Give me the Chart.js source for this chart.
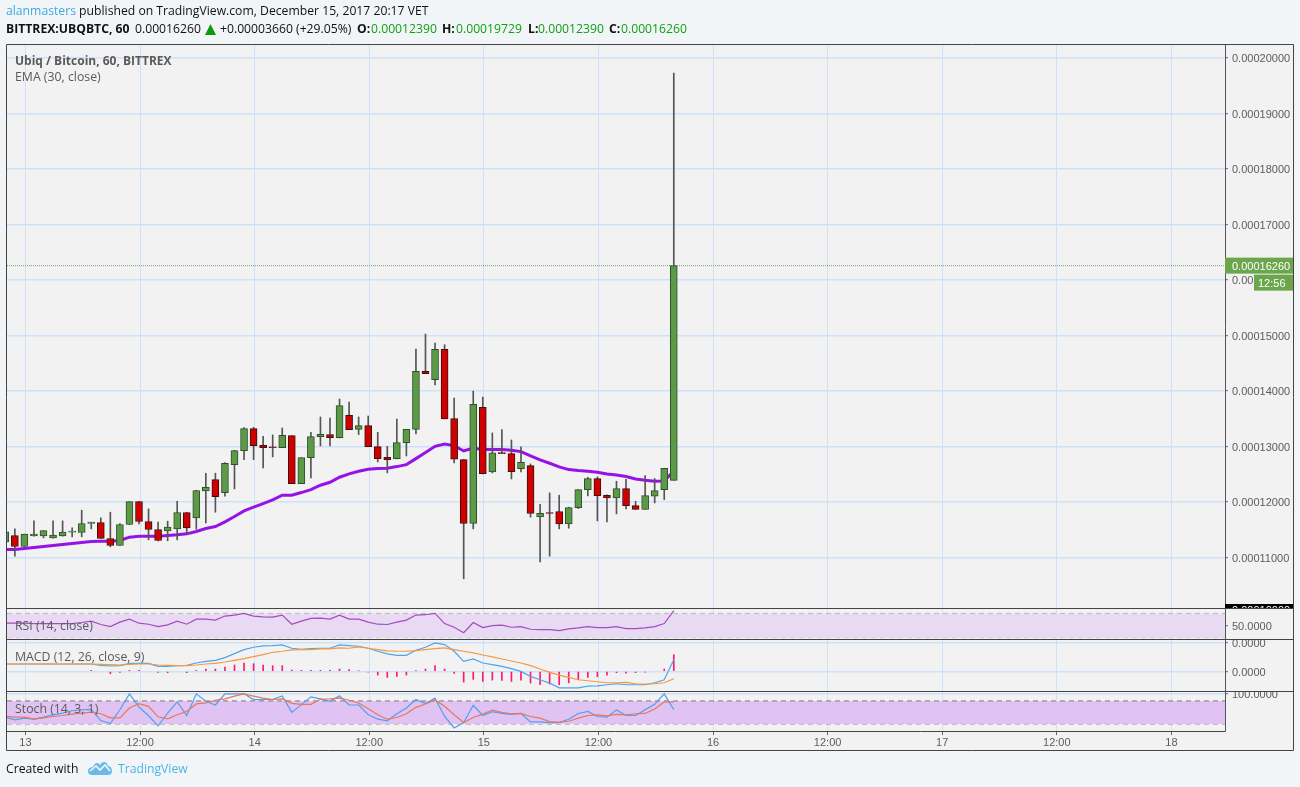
<!DOCTYPE html>
<html>
<head>
<meta charset="utf-8">
<script src="https://cdn.jsdelivr.net/npm/chart.js@4/dist/chart.umd.min.js"></script>
<style>
  html, body { margin: 0; padding: 0; background: #f1f5f8; }
  body { width: 1300px; height: 787px; position: relative; overflow: hidden; font-family: "Open Sans", sans-serif; }
  canvas { position: absolute; left: 0; top: 0; }
  .txt { position: absolute; white-space: nowrap; font-size: 12.2px; line-height: 16px; color: #111; }
  .lg { position: absolute; white-space: nowrap; font-size: 12.3px; line-height: 16px; color: #5a5a5a; }
  .g { color: #12a012; }
  b { font-weight: 700; }
</style>
</head>
<body>
<canvas id="c" width="1300" height="787"></canvas>

<div class="txt" style="left:6px;top:3px"><span style="color:#3fa9e0">alanmasters</span> published on TradingView.com, December 15, 2017 20:17 VET</div>
<div class="txt" style="left:6px;top:21px"><b>BITTREX:UBQBTC, 60</b></div>
<div class="txt" style="left:135px;top:21px">0.00016260</div>
<svg style="position:absolute;left:205px;top:24px" width="11" height="11" viewBox="0 0 11 11"><path d="M5.5 0 L11 11 L0 11 Z" fill="#0a9a0a"/></svg>
<div class="txt" style="left:220px;top:21px">+0.00003660 (+29.05%)</div>
<div class="txt" style="left:357px;top:21px"><b>O:</b></div>
<div class="txt g" style="left:371px;top:21px">0.00012390</div>
<div class="txt" style="left:442px;top:21px"><b>H:</b></div>
<div class="txt g" style="left:456px;top:21px">0.00019729</div>
<div class="txt" style="left:528px;top:21px"><b>L:</b></div>
<div class="txt g" style="left:538px;top:21px">0.00012390</div>
<div class="txt" style="left:609px;top:21px"><b>C:</b></div>
<div class="txt g" style="left:621px;top:21px">0.00016260</div>

<div class="lg" style="left:15px;top:53px;font-size:12px"><b>Ubiq / Bitcoin, 60, BITTREX</b></div>
<div class="lg" style="left:15px;top:69px">EMA (30, close)</div>
<div class="lg" style="left:15px;top:618px">RSI (14, close)</div>
<div class="lg" style="left:15px;top:649px">MACD (12, 26, close, 9)</div>
<div class="lg" style="left:15px;top:701px">Stoch (14, 3, 1)</div>

<div class="txt" style="left:6px;top:761px;color:#111">Created with</div>
<svg style="position:absolute;left:87px;top:760px" width="26" height="16" viewBox="0 0 26 16">
  <path d="M1 11 C1 8 4 7 6 7 C7 4 10 1 13 5 C15 1 20 1 21 6 C24 6 25 9 25 11 C25 14 23 15 21 15 L5 15 C3 15 1 14 1 11 Z" fill="#6cb9e6"/>
  <path d="M3 11 L9 6 L13 10 L18 5 L23 11" fill="none" stroke="#f1f5f8" stroke-width="1.6"/>
</svg>
<div class="txt" style="left:118px;top:761px;color:#4db4e6">TradingView</div>

<script>
// hours since Dec 13 00:00, one candle per hour. prices in satoshi (1e-8 BTC)
const hours = [-2,-1,0,1,2,3,4,5,6,7,8,9,10,11,12,13,14,15,16,17,18,19,20,21,22,23,24,25,26,27,28,29,30,31,32,33,
  34,35,36,37,38,39,40,41,42,43,44,45,46,47,48,49,50,51,52,53,54,55,56,57,58,59,60,61,62,63,64,65,66,67,68];

const opens = [11282,11396,11198,11390,11390,11354,11390,11456,11450,11612,11630,11342,11216,11594,12008,11648,11504,11480,
  11516,11810,11714,12200,12404,12170,12674,12926,13322,13022,12992,12980,13196,12332,12800,13178,13214,13160,
  13562,13310,13376,12998,12806,12782,13070,13310,14354,14204,14750,13502,12764,11612,13706,12542,12890,12872,
  12602,12656,11732,11810,11828,11606,11900,12224,12422,12122,12074,12242,11936,11864,12104,12224,12390];
const highs = [11504,11516,11420,11660,11486,11660,11660,11534,11852,11636,11714,11816,11612,12008,12008,11876,11636,11654,
  12014,11816,12212,12518,12518,12710,12932,13340,13346,13184,13208,13334,13196,12800,13256,13532,13514,13856,
  13802,13532,13550,13256,13004,13496,13310,14756,15026,14864,14834,13874,12770,14000,13892,13244,13304,13118,
  12992,12686,11960,12164,12122,11906,12224,12446,12452,12128,12374,12410,12014,12476,12422,12608,19729];
const lows = [11264,11024,11198,11384,11354,11348,11384,11372,11372,11516,11342,11192,11216,11594,11606,11318,11300,11300,
  11318,11420,11510,11624,11816,12104,12236,12764,12764,12614,12812,12980,12332,12332,12434,13010,13010,13154,
  13304,13214,12998,12722,12524,12776,12830,13226,14312,14108,13496,12704,10616,11516,12506,12524,12872,12416,
  12542,11726,10922,11024,11516,11528,11882,12110,11660,11642,11786,11876,11864,11864,11984,12044,12390];
const closes = [11462,11198,11420,11420,11486,11402,11456,11474,11612,11636,11342,11216,11594,12008,11648,11504,11306,11546,
  11810,11534,12206,12266,12098,12698,12926,13322,13016,12980,12980,13202,12332,12800,13178,13220,13160,13736,
  13304,13376,12998,12782,12764,13070,13310,14354,14312,14750,13496,12770,11612,13760,12512,12884,12872,12548,
  12716,11792,11798,11792,11606,11900,12224,12422,12116,12074,12242,11936,11864,12116,12206,12608,16260];
const ema30 = [11144,11144,11162,11180,11198,11216,11234,11252,11270,11288,11294,11294,11306,11366,11384,11384,11384,11396,
  11408,11426,11468,11522,11558,11642,11738,11840,11906,11972,12038,12122,12122,12170,12224,12302,12356,12446,
  12506,12554,12590,12602,12608,12638,12674,12782,12890,13004,13046,13016,12920,12974,12944,12944,12944,12932,
  12908,12830,12758,12698,12632,12584,12566,12554,12536,12506,12488,12458,12416,12392,12374,12380,12560];
const lastPrice = 16260;

const rsi = [53.9,53.9,53.9,53.3,53.3,53.3,53.3,53.3,55,57.2,51.7,48.3,55.6,60.6,53.9,52.2,48.3,51.1,
  57.2,52.2,60.6,60.6,58.9,65.6,67.2,70,65.6,64.4,63.9,67.2,52.2,57.2,61.7,62.2,60.6,67.2,
  60.6,60.6,55.6,52.2,51.7,55.6,58.9,67.2,67.8,70,53.3,47.2,38.3,55,46.7,50,50.6,47.2,
  48.3,43.9,43.3,43.3,41.7,44.4,46.1,48.3,46.7,46.7,48.3,45,45,46.1,48.3,53.3,74.4];

const macd = [259,259,259,259,259,259,259,259,259,259,212,188,200,282,282,282,176,176,
  200,212,294,353,388,482,623,764,847,894,906,929,811,776,800,811,811,929,
  906,882,811,706,612,564,564,741,847,1000,941,706,353,435,294,235,176,94,
  0,-176,-294,-412,-576,-576,-576,-517,-506,-470,-435,-470,-470,-470,-400,-294,412];
const macdSignal = [259,259,259,259,259,259,259,259,259,259,247,235,223,247,259,259,223,212,
  200,200,223,259,282,329,388,447,517,588,670,706,753,764,764,788,788,823,
  811,858,811,764,717,706,706,729,764,800,823,764,706,647,576,506,435,365,
  294,200,82,-35,-129,-212,-294,-329,-365,-400,-400,-388,-435,-447,-435,-400,-259];
const macdHist = [null,null,null,null,null,null,null,null,null,35,null,-82,-35,35,35,null,-35,-47,
  null,-47,35,82,82,153,223,294,270,223,200,200,47,35,35,35,35,82,
  59,24,-24,-129,-212,-176,-129,24,82,200,82,-71,-376,-282,-353,-306,-318,-353,
  -306,-412,-470,-447,-470,-400,-294,-212,-188,-129,-47,-59,-47,-24,null,82,588];

const stochK = [37.6,30.6,35,32.3,37.6,43.8,48.2,54.4,57,57.9,28.8,20.9,57,98.5,64.1,41.2,14.7,48.2,
  77.4,42,98.5,79.1,69.4,98.5,98.5,98.5,83.5,83.5,84.4,93.2,50,70.3,90.6,85.3,79.1,93.2,
  69.4,69.4,44.7,32.3,27.9,46.5,61.5,83.5,72.9,87.1,39.4,9.4,23.5,68.5,42,51.8,47.3,44.7,
  47.3,25.3,25.3,23.5,23.5,32.3,47.3,52.6,39.4,37.6,56.2,42,42,57,71.2,98.5,57];
const stochD = [39.4,37.6,37.6,32.3,35.9,39.4,42,45.6,48.2,50.9,46.5,35.9,35.9,61.5,72.9,65.9,38.5,33.2,
  43.8,52.6,72.1,74.7,81.8,85.3,92.4,98.5,92.4,87.1,83.5,85.3,73.8,71.2,71.2,84.4,85.3,87.1,
  81.8,74.7,59.7,43.8,32.3,36.8,46.5,63.2,72.1,82.6,65.9,43.8,23.5,36.8,45.6,56.2,50,46.5,
  47.3,39.4,35,26.2,24.4,27,35,42,43.8,41.2,44.7,43.8,46.5,47.3,58.8,77.4,77.4];

const priceTicks = [11000,12000,13000,14000,15000,16000,17000,18000,19000,20000];
const rsiTicks = [50];
const macdTicks = [0,1000];
const stochTicks = [100];
const timeTicks = [0,12,24,36,48,60,72,84,96,108,120];
const timeLabels = ['13','12:00','14','12:00','15','12:00','16','12:00','17','12:00','18'];

// the day grid sits about 1px right of the candles in the source
const gridShift = 0.11;
const xMin = -1.822, xMax = 125.72;
const gridColor = '#cde2f9';
const axisFont = { family: 'Liberation Sans', size: 11 };
const axisText = '#5c5c5c';

function series(vals) { return hours.map((h, i) => ({ x: h, y: vals[i] })); }
function flat(v) { return [{ x: xMin, y: v }, { x: xMax, y: v }]; }

const upBody = '#5c9a48', upEdge = '#2e4f2a', downBody = '#cf0000', downEdge = '#3e0f0f';

function lineDs(yAxisID, data, color, width, order, extra) {
  return Object.assign({ type: 'line', yAxisID, data, borderColor: color, borderWidth: width, pointRadius: 0, tension: 0, fill: false, order }, extra || {});
}
function bandDs(yAxisID, hi, lo, fillColor, dashColor) {
  return [
    lineDs(yAxisID, flat(hi), dashColor, 1, 9, { borderDash: [5, 4], fill: '+1', backgroundColor: fillColor }),
    lineDs(yAxisID, flat(lo), dashColor, 1, 9, { borderDash: [5, 4] })
  ];
}
function yScale(weight, min, max, values, fmt, labelOffset) {
  return {
    type: 'linear', position: 'right', stack: 'panes', stackWeight: weight, min, max,
    afterFit: s => { s.width = 68; },
    afterBuildTicks: s => { s.ticks = values.map(v => ({ value: v })); },
    grid: { color: gridColor, tickColor: '#666', tickLength: 3, lineWidth: 1.4, tickWidth: 1 },
    border: { display: true, color: '#555', width: 1 },
    ticks: { callback: fmt, font: axisFont, color: axisText, padding: 4, autoSkip: false, labelOffset }
  };
}

// pane frame, dividers and the price tags on the right
const frame = {
  id: 'frame',
  beforeDraw(chart) {
    const c = chart.ctx;
    c.fillStyle = '#f2f2f2';
    c.fillRect(6, 44, 1288, 706);
  },
  afterDraw(chart) {
    const c = chart.ctx, s = chart.scales;
    const lastY = s.price.getPixelForValue(lastPrice);
    c.save();
    // labels that run over a pane edge are cut off at the divider
    c.fillStyle = '#f2f2f2';
    c.fillRect(1229, 634, 64, 5);
    c.fillRect(1229, 686, 64, 5);
    c.strokeStyle = '#444';
    c.lineWidth = 1;
    c.beginPath();
    c.rect(6.5, 44.5, 1287, 706);
    for (const y of [608.5, 639.5, 691.5]) { c.moveTo(6, y); c.lineTo(1294, y); }
    c.moveTo(6, 731.5); c.lineTo(1225.5, 731.5);
    c.stroke();
    c.fillStyle = '#6ca64c';
    c.fillRect(1225, lastY - 8, 68, 16);
    c.fillRect(1254, lastY + 9, 39, 16);
    c.fillStyle = '#fff';
    c.font = '11px "Liberation Sans"';
    c.textBaseline = 'middle';
    c.fillText('0.00016260', 1232, lastY + 1);
    c.fillText('12:56', 1258, lastY + 18);
    // clipped tag above the RSI pane
    c.fillStyle = '#000';
    c.fillRect(1225, 604, 68, 4);
    c.beginPath();
    c.rect(1225, 604, 68, 4);
    c.clip();
    c.fillStyle = '#fff';
    c.fillText('0.00010000', 1232, 611);
    c.restore();
  }
};

new Chart(document.getElementById('c'), {
  data: {
    datasets: [
      { type: 'bar', yAxisID: 'price', grouped: false, order: 1, barThickness: 7, borderWidth: 1, borderSkipped: false,
        data: hours.map((h, i) => ({ x: h, y: [opens[i], closes[i]] })),
        backgroundColor: closes.map((v, i) => v >= opens[i] ? upBody : downBody),
        borderColor: closes.map((v, i) => v >= opens[i] ? upEdge : downEdge) },
      { type: 'bar', yAxisID: 'price', grouped: false, order: 2, barThickness: 1, borderWidth: 0,
        data: hours.map((h, i) => ({ x: h, y: [lows[i], highs[i]] })),
        backgroundColor: '#555555' },
      lineDs('price', series(ema30), '#9612e6', 3, 3),
      lineDs('price', flat(lastPrice), '#7d9c70', 1, 4, { borderDash: [1, 1] }),

      ...bandDs('rsi', 70, 30, '#e8daf3', '#bdb6c2'),
      lineDs('rsi', series(rsi), '#a54bbd', 1.2, 2),

      { type: 'bar', yAxisID: 'macd', grouped: false, order: 3, barThickness: 1, borderWidth: 0,
        data: series(macdHist), backgroundColor: '#ff1a70' },
      lineDs('macd', series(macd), '#4ba6f0', 1.2, 2),
      lineDs('macd', series(macdSignal), '#f7983f', 1.2, 1),

      ...bandDs('stoch', 80, 20, '#e0c3f2', '#7d7782'),
      lineDs('stoch', series(stochK), '#4f9ff0', 1.2, 2),
      lineDs('stoch', series(stochD), '#e8775c', 1.2, 1)
    ]
  },
  options: {
    responsive: false,
    animation: false,
    events: [],
    layout: { padding: { left: 7, top: 45, right: 7, bottom: 37 } },
    plugins: { legend: { display: false }, tooltip: { enabled: false } },
    scales: {
      x: {
        type: 'linear', min: xMin, max: xMax, offset: false,
        afterFit: s => { s.height = 19; },
        afterBuildTicks: s => { s.ticks = timeTicks.map(v => ({ value: v + gridShift })); },
        grid: { color: gridColor, tickColor: '#666', tickLength: 4, lineWidth: 1, offset: false },
        border: { display: false },
        ticks: { callback: (v, i) => timeLabels[i], font: axisFont, color: axisText, autoSkip: false, maxRotation: 0, padding: 1 }
      },
      price: yScale(563.5, 10088, 20236, priceTicks, v => (v / 1e8).toFixed(8), 1),
      rsi: yScale(31, 27.8, 78.7, rsiTicks, v => v.toFixed(4), 1.5),
      macd: yScale(52, -690, 1134, macdTicks, v => (v / 1e8).toFixed(4), 1.5),
      stoch: yScale(40, 1.5, 105.8, stochTicks, v => v.toFixed(4), 2)
    }
  },
  plugins: [frame]
});
</script>
</body>
</html>
